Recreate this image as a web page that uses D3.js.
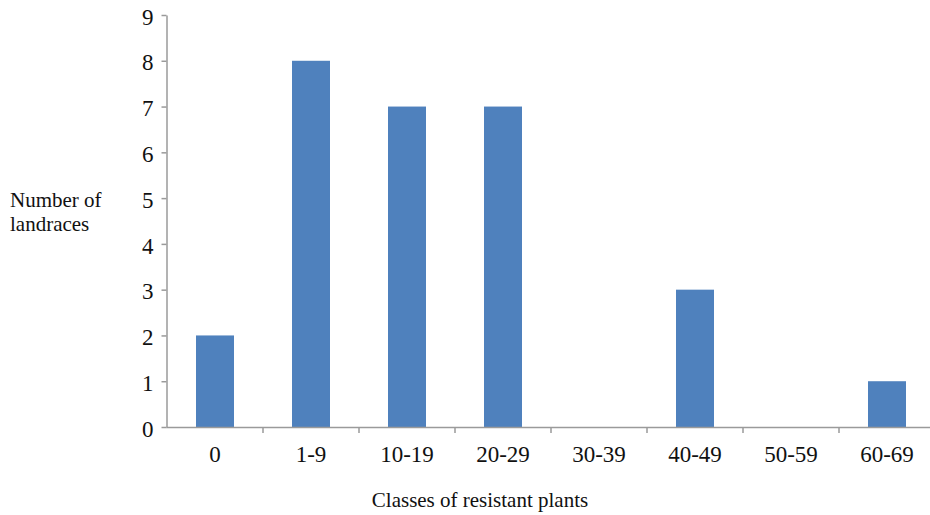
<!DOCTYPE html>
<html><head><meta charset="utf-8">
<script src="https://cdn.jsdelivr.net/npm/d3@7"></script>
<style>body{margin:0;background:#fff}svg{display:block}</style>
</head><body><svg id="c" width="930" height="515"></svg>
<script>
const categories = ["0","1-9","10-19","20-29","30-39","40-49","50-59","60-69"];
const counts = [2,8,7,7,0,3,0,1];
const yTicks = [0,1,2,3,4,5,6,7,8,9];

const FONT = "'Liberation Serif','Times New Roman',serif";
const svg = d3.select("#c");
const x0 = 167, step = 96;
const x = d3.scaleBand().domain(categories).range([x0, x0 + step*categories.length]).paddingInner(0).paddingOuter(0);
const y = d3.scaleLinear().domain([0,9]).range([427,15]);
const axisColor = "#9a9a9a";

// bars
const bw = 38;
svg.selectAll("rect.bar").data(categories).join("rect")
  .attr("class","bar")
  .attr("x", d => x(d) + x.bandwidth()/2 - bw/2)
  .attr("width", bw)
  .attr("y", (d,i) => y(counts[i]))
  .attr("height", (d,i) => y(0) - y(counts[i]))
  .attr("fill", "#4F81BD");

// y axis
const gy = svg.append("g").attr("transform", `translate(${x0-0.5},0)`)
  .call(d3.axisLeft(y).tickValues(yTicks).tickSize(5).tickSizeOuter(0).tickPadding(8).tickFormat(d3.format("d")));
gy.attr("font-family", FONT).attr("font-size", 23);
gy.select(".domain").attr("stroke", axisColor).attr("stroke-width", 1.5);
gy.selectAll(".tick line").attr("stroke", axisColor).attr("stroke-width", 1.5);
gy.selectAll(".tick text").attr("fill","#111").attr("dy","0.4em");

// x axis
svg.append("line").attr("x1", x0-0.5).attr("x2", 930).attr("y1", y(0)+0.5).attr("y2", y(0)+0.5)
  .attr("stroke", axisColor).attr("stroke-width", 1.5);
svg.selectAll("line.xt").data(categories.slice(1)).join("line").attr("class","xt")
  .attr("x1", d => x(d)).attr("x2", d => x(d))
  .attr("y1", y(0)).attr("y2", y(0)+6)
  .attr("stroke", axisColor).attr("stroke-width", 1.5);
svg.selectAll("text.xl").data(categories).join("text").attr("class","xl")
  .attr("x", d => x(d) + x.bandwidth()/2)
  .attr("y", 462)
  .attr("text-anchor","middle")
  .attr("font-family", FONT).attr("font-size", 23).attr("fill","#111")
  .text(d => d);

// titles
const t = (xx, yy, s, anchor) => svg.append("text").attr("x", xx).attr("y", yy)
  .attr("text-anchor", anchor).attr("font-family", FONT).attr("font-size", 21).attr("fill","#111").text(s);
t(10, 207, "Number of", "start");
t(10, 231, "landraces", "start");
t(480, 507, "Classes of resistant plants", "middle");
</script></body></html>
